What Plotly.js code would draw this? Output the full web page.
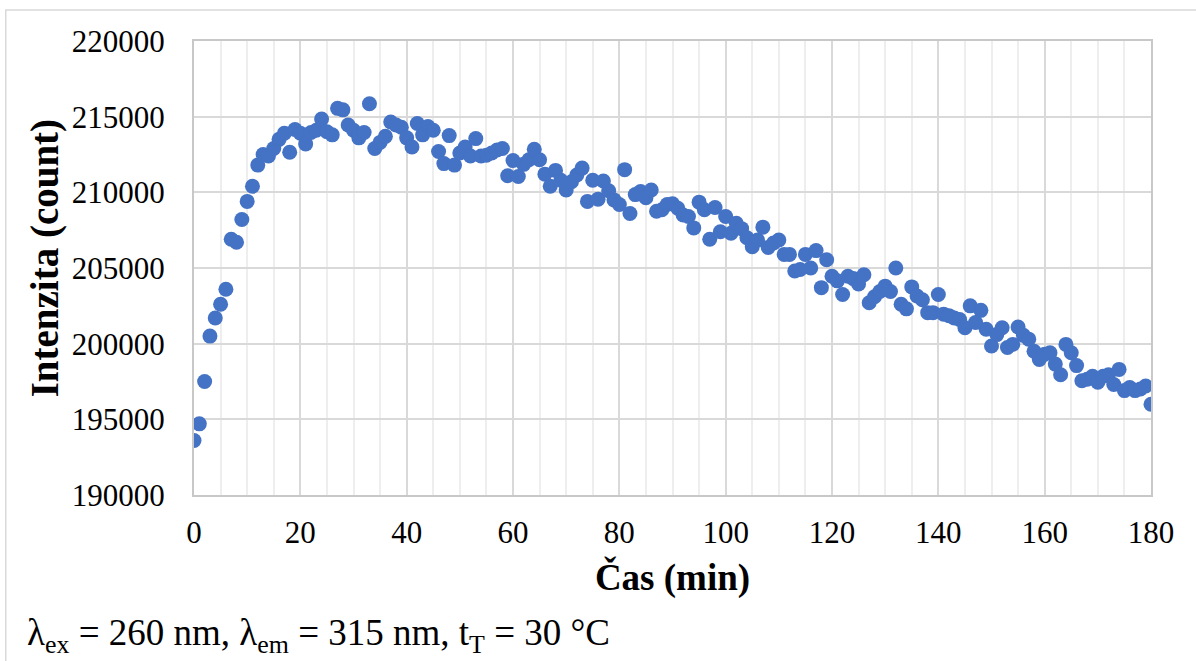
<!DOCTYPE html>
<html>
<head>
<meta charset="utf-8">
<script src="https://cdn.plot.ly/plotly-3.0.1.min.js"></script>
<style>
html,body{margin:0;padding:0;background:#fff;}
#chart{width:1196px;height:661px;}
</style>
</head>
<body>
<div id="chart"></div>
<script>
// time in minutes
const casMin = [
  0,1,2,3,4,5,6,7,8,9,10,11,12,13,14,15,16,17,18,19,
  20,21,22,23,24,25,26,27,28,29,30,31,32,33,34,35,36,37,38,39,
  40,41,42,43,44,45,46,47,48,49,50,51,52,53,54,55,56,57,58,59,
  60,61,62,63,64,65,66,67,68,69,70,71,72,73,74,75,76,77,78,79,
  80,81,82,83,84,85,86,87,88,89,90,91,92,93,94,95,96,97,98,99,
  100,101,102,103,104,105,106,107,108,109,110,111,112,113,114,115,116,117,118,119,
  120,121,122,123,124,125,126,127,128,129,130,131,132,133,134,135,136,137,138,139,
  140,141,142,143,144,145,146,147,148,149,150,151,152,153,154,155,156,157,158,159,
  160,161,162,163,164,165,166,167,168,169,170,171,172,173,174,175,176,177,178,179,
  180
];
// intensity (count)
const intenzita = [
  193600,194700,197500,200500,201700,202600,203600,206900,206700,208200,
  209400,210400,211800,212500,212400,212900,213500,213900,212650,214150,
  213900,213200,213950,214100,214850,214000,213800,215550,215450,214450,
  214100,213600,213950,215850,212900,213300,213700,214650,214450,214300,
  213600,213000,214550,213800,214350,214100,212700,211900,213750,211800,
  212600,213000,212400,213550,212400,212450,212600,212800,212900,211100,
  212100,211050,211850,212150,212850,212150,211200,210400,211450,210800,
  210150,210700,211150,211600,209400,210800,209550,210750,210100,209500,
  209200,211500,208600,209850,210050,209650,210150,208750,208850,209200,
  209250,208950,208500,208400,207650,209350,208850,206900,209000,207400,
  208400,207300,207950,207600,207000,206400,206850,207700,206350,206650,
  206850,205900,205900,204800,204900,205900,205000,206150,203700,205550,
  204450,204150,203250,204450,204300,203950,204550,202700,203100,203450,
  203800,203450,205000,202600,202300,203750,203150,202900,202050,202050,
  203250,201950,201850,201700,201600,201050,202500,201400,202200,200950,
  199850,200600,201050,199750,199950,201100,200550,200300,199500,198950,
  199300,199400,198650,197950,199950,199400,198550,197550,197650,197850,
  197450,197850,197950,197300,198300,196900,197100,196900,197000,197200,
  196000
];
const xTitle = "Čas (min)";
const yTitle = "Intenzita (count)";
const noteText = "λ<sub>ex</sub> = 260 nm, λ<sub>em</sub> = 315 nm, t<sub>T</sub> = 30 °C";

const serif = "Liberation Serif";

const trace = {
  type: "scatter",
  mode: "markers",
  x: casMin,
  y: intenzita,
  marker: {color: "#4472C4", size: 15, line: {width: 0}},
  hoverinfo: "x+y"
};

const layout = {
  width: 1196,
  height: 661,
  margin: {l: 194, r: 45, t: 41, b: 166, pad: 0},
  paper_bgcolor: "#ffffff",
  plot_bgcolor: "#ffffff",
  showlegend: false,
  font: {family: serif, color: "#000000", size: 30},
  xaxis: {
    range: [0, 180],
    dtick: 20,
    tick0: 0,
    showgrid: true,
    gridcolor: "#d9d9d9",
    gridwidth: 2,
    zeroline: false,
    showline: true,
    linecolor: "#c8c8c8",
    linewidth: 2,
    mirror: true,
    ticks: "",
    ticklabelstandoff: 9,
    tickfont: {family: serif, size: 31, color: "#000000"},
    minor: {dtick: 5, tick0: 0, showgrid: true, gridcolor: "#eeeeee", gridwidth: 2, ticks: ""},
    title: {text: "<b>" + xTitle + "</b>", font: {family: serif, size: 37, color: "#000000"}, standoff: 15}
  },
  yaxis: {
    range: [190000, 220000],
    dtick: 5000,
    tick0: 190000,
    tickformat: "d",
    showgrid: true,
    gridcolor: "#d9d9d9",
    gridwidth: 2,
    zeroline: false,
    showline: true,
    linecolor: "#c8c8c8",
    linewidth: 2,
    mirror: true,
    ticks: "",
    ticklabelstandoff: 21,
    tickfont: {family: serif, size: 31, color: "#000000"}
  },
  annotations: [
    {
      text: "<b>" + yTitle + "</b>",
      xref: "paper", yref: "paper",
      x: -0.1548, y: 0.521,
      xanchor: "center", yanchor: "middle",
      textangle: -90,
      showarrow: false,
      font: {family: serif, size: 39, color: "#000000"}
    },
    {
      text: noteText,
      xref: "paper", yref: "paper",
      x: -0.1768, y: -0.31,
      xanchor: "left", yanchor: "middle",
      showarrow: false,
      font: {family: serif, size: 37, color: "#000000"}
    }
  ],
  shapes: [
    {
      type: "rect", xref: "paper", yref: "paper",
      x0: -0.1967, x1: 1.06, y0: -0.40, y1: 1.0681,
      line: {color: "#d9d9d9", width: 1.5},
      fillcolor: "rgba(0,0,0,0)",
      layer: "below"
    }
  ]
};

Plotly.newPlot("chart", [trace], layout, {displayModeBar: false, staticPlot: true});
</script>
</body>
</html>
